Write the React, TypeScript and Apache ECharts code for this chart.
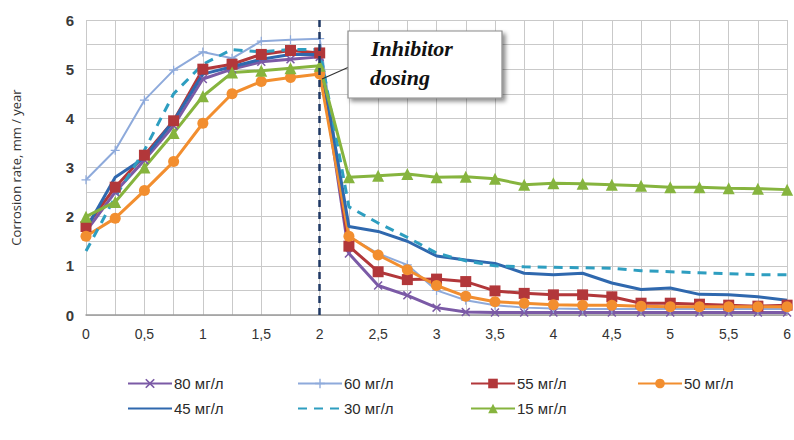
import React, { useEffect, useRef } from "react";
import * as echarts from "echarts";

const xValues = [0, 0.25, 0.5, 0.75, 1, 1.25, 1.5, 1.75, 2, 2.25, 2.5, 2.75, 3, 3.25, 3.5, 3.75, 4, 4.25, 4.5, 4.75, 5, 5.25, 5.5, 5.75, 6];

const s80 = [1.7, 2.5, 3.15, 3.85, 4.8, 5.0, 5.15, 5.2, 5.25, 1.25, 0.6, 0.4, 0.15, 0.06, 0.05, 0.05, 0.05, 0.05, 0.05, 0.05, 0.05, 0.05, 0.05, 0.05, 0.05];
const s60 = [2.75, 3.35, 4.37, 4.98, 5.35, 5.22, 5.57, 5.6, 5.62, 1.6, 1.25, 1.02, 0.5, 0.3, 0.2, 0.15, 0.13, 0.12, 0.12, 0.12, 0.12, 0.12, 0.12, 0.12, 0.12];
const s55 = [1.8, 2.6, 3.25, 3.95, 5.0, 5.1, 5.3, 5.38, 5.33, 1.4, 0.88, 0.72, 0.73, 0.68, 0.49, 0.44, 0.41, 0.41, 0.37, 0.24, 0.24, 0.22, 0.2, 0.18, 0.2];
const s50 = [1.6, 1.97, 2.53, 3.12, 3.9, 4.5, 4.75, 4.83, 4.9, 1.6, 1.22, 0.92, 0.6, 0.38, 0.27, 0.24, 0.21, 0.2, 0.2, 0.18, 0.17, 0.17, 0.17, 0.17, 0.17];
const s45 = [1.75, 2.8, 3.2, 3.95, 4.9, 5.05, 5.2, 5.3, 5.3, 1.8, 1.7, 1.5, 1.2, 1.12, 1.05, 0.85, 0.82, 0.85, 0.65, 0.52, 0.55, 0.42, 0.41, 0.37, 0.3];
const s30 = [1.3, 2.4, 3.35, 4.5, 5.1, 5.4, 5.35, 5.4, 5.4, 2.2, 1.87, 1.58, 1.26, 1.1, 1.0, 0.98, 0.97, 0.96, 0.95, 0.9, 0.88, 0.86, 0.84, 0.82, 0.82];
const s15 = [2.0, 2.3, 3.0, 3.7, 4.45, 4.93, 4.97, 5.02, 5.07, 2.8, 2.83, 2.87, 2.8, 2.81, 2.77, 2.65, 2.68, 2.67, 2.65, 2.63, 2.6, 2.6, 2.58, 2.57, 2.55];

const seriesNames = ["80 мг/л", "60 мг/л", "55 мг/л", "50 мг/л", "45 мг/л", "30 мг/л", "15 мг/л"];
const dosingTime = 2;
const yAxisTitle = "Corrosion rate, mm / year";
const annotationLines = ["Inhibitor", "dosing"];

const FONT = "'Liberation Sans Narrow', 'Liberation Sans', Arial, sans-serif";

const X_SYMBOL = "path://M0,1.2 L1.2,0 L5,3.8 L8.8,0 L10,1.2 L6.2,5 L10,8.8 L8.8,10 L5,6.2 L1.2,10 L0,8.8 L3.8,5 Z";
const PLUS_SYMBOL = "path://M4.3,0 L5.7,0 L5.7,4.3 L10,4.3 L10,5.7 L5.7,5.7 L5.7,10 L4.3,10 L4.3,5.7 L0,5.7 L0,4.3 L4.3,4.3 Z";

function pairs(vals: number[]) {
  return xValues.map((x, i) => [x, vals[i]]);
}

export default function App() {
  const ref = useRef<HTMLDivElement>(null);
  useEffect(() => {
    if (!ref.current) return;
    const chart = echarts.init(ref.current, null, { renderer: "svg" });

    const styles = [
      { color: "#7B5AA6", width: 3, symbol: X_SYMBOL, size: 9, type: "solid" },
      { color: "#8EAADB", width: 2, symbol: PLUS_SYMBOL, size: 9, type: "solid" },
      { color: "#B2373A", width: 3, symbol: "rect", size: 11, type: "solid" },
      { color: "#F28E2F", width: 3, symbol: "circle", size: 11, type: "solid" },
      { color: "#2F68AE", width: 3, symbol: "none", size: 0, type: "solid" },
      { color: "#2E9EC0", width: 3, symbol: "none", size: 0, type: [9, 7] },
      { color: "#86B43E", width: 3, symbol: "triangle", size: 12, type: "solid" },
    ];
    const dataSets = [s80, s60, s55, s50, s45, s30, s15];

    const series: any[] = seriesNames.map((name, i) => {
      const st = styles[i];
      const s: any = {
        name,
        type: "line",
        data: pairs(dataSets[i]),
        symbol: st.symbol,
        symbolSize: st.size,
        showSymbol: st.symbol !== "none",
        lineStyle: { color: st.color, width: st.width, type: st.type },
        itemStyle: { color: st.color, borderColor: st.color, borderWidth: 0 },
        z: 3,
      };
      return s;
    });
    series[0].markLine = {
      symbol: "none",
      silent: true,
      label: { show: false },
      lineStyle: { color: "#1F3864", type: [7, 5], width: 2.5 },
      data: [{ xAxis: dosingTime }],
      z: 5,
    };

    const legendPos = [
      { left: 127, top: 376 },
      { left: 297, top: 376 },
      { left: 470, top: 376 },
      { left: 637, top: 376 },
      { left: 127, top: 401 },
      { left: 297, top: 401 },
      { left: 470, top: 401 },
    ];
    const legends = seriesNames.map((name, i) => ({
      data: [styles[i].symbol === "none" ? { name, itemStyle: { opacity: 0 } } : name],
      left: legendPos[i].left,
      top: legendPos[i].top,
      itemWidth: 44,
      itemHeight: 12,
      itemGap: 0,
      padding: 0,
      textStyle: { fontFamily: FONT, fontSize: 15, color: "#2a2a2a", padding: [0, 0, 0, -3] },
    }));

    const option: any = {
      animation: false,
      backgroundColor: "#fff",
      grid: { left: 86, right: 2, top: 20, bottom: 125 },
      legend: legends,
      xAxis: {
        type: "value",
        min: 0,
        max: 6,
        interval: 0.25,
        axisLine: { show: true, lineStyle: { color: "#9A9A9A", width: 1.5 } },
        axisTick: { show: false },
        splitLine: { show: true, lineStyle: { color: "#C9C9C9", width: 1 } },
        axisLabel: {
          margin: 12,
          fontFamily: FONT,
          fontSize: 14,
          color: "#333",
          formatter: (v: number) => (Math.abs(v * 2 - Math.round(v * 2)) < 1e-6 ? String(v).replace(".", ",") : ""),
        },
      },
      yAxis: {
        type: "value",
        min: 0,
        max: 6,
        interval: 0.5,
        name: yAxisTitle,
        nameLocation: "middle",
        nameGap: 64,
        nameRotate: 90,
        nameTextStyle: { fontFamily: "'Open Sans', 'Noto Sans', Arial, sans-serif", fontSize: 13, color: "#333" },
        axisLine: { show: false },
        axisTick: { show: false },
        splitLine: { show: true, lineStyle: { color: "#C9C9C9", width: 1 } },
        axisLabel: {
          margin: 12,
          fontFamily: FONT,
          fontSize: 15,
          fontWeight: "bold",
          color: "#3a3a3a",
          formatter: (v: number) => (Number.isInteger(v) ? String(v) : ""),
        },
      },
      graphic: [
        {
          type: "line",
          shape: { x1: 349, y1: 67, x2: 322, y2: 79 },
          style: { stroke: "#333", lineWidth: 1.2 },
          z: 10,
        },
        {
          type: "rect",
          shape: { x: 348, y: 31, width: 154, height: 67 },
          style: {
            fill: "#fff",
            stroke: "#8a8a8a",
            lineWidth: 1.2,
            shadowBlur: 4,
            shadowOffsetX: 3,
            shadowOffsetY: 3,
            shadowColor: "rgba(0,0,0,0.45)",
          },
          z: 10,
        },
        {
          type: "text",
          x: 371,
          y: 37,
          style: {
            text: annotationLines[0],
            fontFamily: "'Liberation Serif', 'DejaVu Serif', serif",
            fontSize: 22,
            fontWeight: "bold",
            fontStyle: "italic",
            fill: "#111",
          },
          z: 11,
        },
        {
          type: "text",
          x: 370,
          y: 66,
          style: {
            text: annotationLines[1],
            fontFamily: "'Liberation Serif', 'DejaVu Serif', serif",
            fontSize: 22,
            fontWeight: "bold",
            fontStyle: "italic",
            fill: "#111",
          },
          z: 11,
        },
      ],
      series,
    };
    chart.setOption(option);
    return () => chart.dispose();
  }, []);
  return <div ref={ref} style={{ position: "fixed", left: 0, top: 0, width: 794, height: 440 }} />;
}
